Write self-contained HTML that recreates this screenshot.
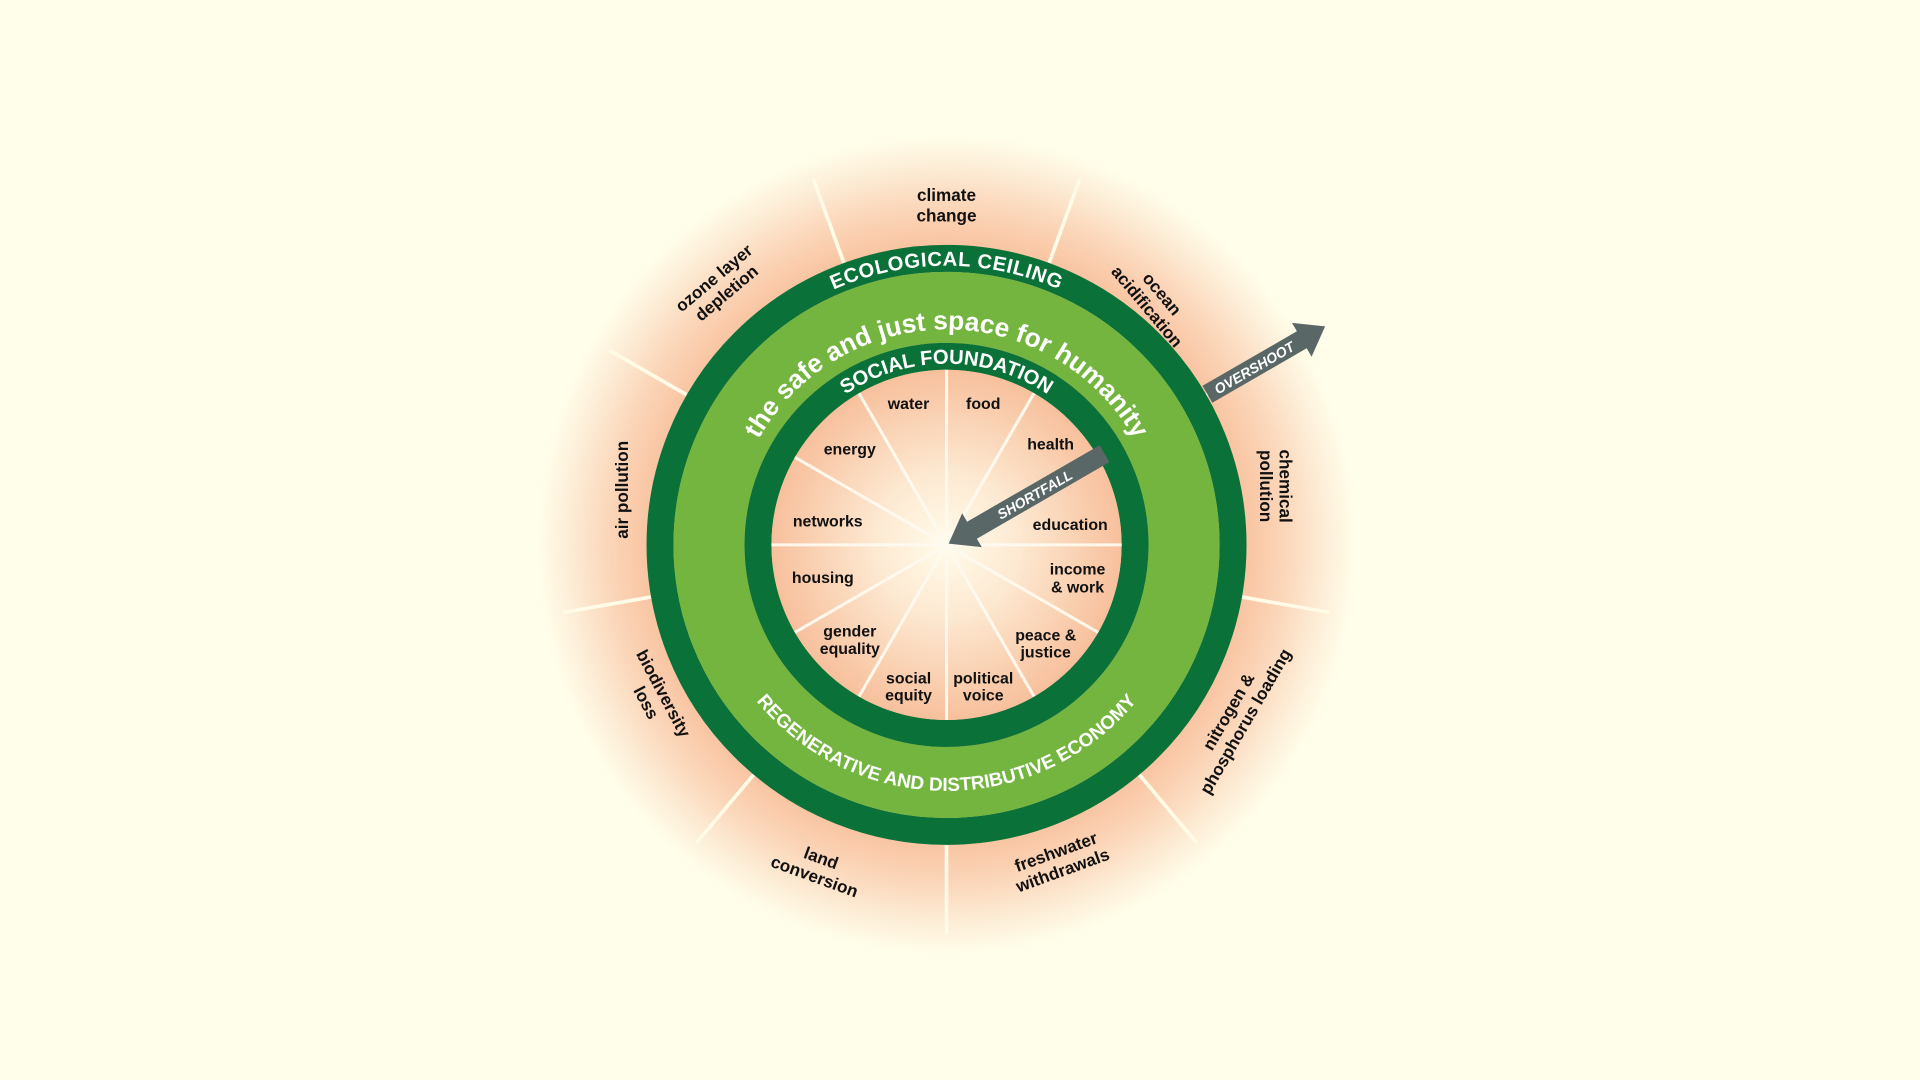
<!DOCTYPE html>
<html><head><meta charset="utf-8"><style>
html,body{margin:0;padding:0;background:#fffeea;}
svg{display:block;}
text{font-family:"Liberation Sans",sans-serif;font-weight:bold;}
</style></head><body>
<svg width="1920" height="1080" viewBox="0 0 1568 882" xmlns="http://www.w3.org/2000/svg">
<defs>
<radialGradient id="glow" cx="773" cy="445" r="335" gradientUnits="userSpaceOnUse">
<stop offset="0.7" stop-color="#f8bf9a"/>
<stop offset="0.82" stop-color="#fbd5b8"/>
<stop offset="0.93" stop-color="#fdefd9"/>
<stop offset="1" stop-color="#fffeea"/>
</radialGradient>
<radialGradient id="inner" cx="773" cy="445" r="145" gradientUnits="userSpaceOnUse">
<stop offset="0" stop-color="#fffcea"/>
<stop offset="0.4" stop-color="#fde9d2"/>
<stop offset="1" stop-color="#f7bf9b"/>
</radialGradient>
<path id="ecoArc" d="M 545 445 A 228 228 0 0 1 1001 445"/>
<path id="safeArc" d="M 597 445 A 176 176 0 0 1 949 445"/>
<path id="socArc" d="M 625 445 A 148 148 0 0 1 921 445"/>
<path id="regArc" d="M 572 445 A 201 201 0 0 0 974 445"/>
<line id="sp" x1="773" y1="200" x2="773" y2="127"/>
</defs>
<rect width="1568" height="882" fill="#fffeea"/>
<circle cx="773" cy="445" r="335" fill="url(#glow)"/>
<g stroke="#fffbe6" stroke-width="3">
<use href="#sp" transform="rotate(20 773 445)"/>
<use href="#sp" transform="rotate(-20 773 445)"/>
<use href="#sp" transform="rotate(60 773 445)"/>
<use href="#sp" transform="rotate(-60 773 445)"/>
<use href="#sp" transform="rotate(100 773 445)"/>
<use href="#sp" transform="rotate(-100 773 445)"/>
<use href="#sp" transform="rotate(140 773 445)"/>
<use href="#sp" transform="rotate(-140 773 445)"/>
<use href="#sp" transform="rotate(180 773 445)"/>
</g>
<circle cx="773" cy="445" r="234" fill="none" stroke="#0a7139" stroke-width="22"/>
<circle cx="773" cy="445" r="194" fill="none" stroke="#73b53f" stroke-width="58"/>
<circle cx="773" cy="445" r="154" fill="none" stroke="#0a7139" stroke-width="22"/>
<circle cx="773" cy="445" r="143" fill="url(#inner)"/>
<g stroke="#fffaf0" stroke-width="2.5" opacity="0.95">
<g id="isp"><line x1="773" y1="445" x2="773" y2="302"/></g>
<use href="#isp" transform="rotate(30 773 445)"/>
<use href="#isp" transform="rotate(60 773 445)"/>
<use href="#isp" transform="rotate(90 773 445)"/>
<use href="#isp" transform="rotate(120 773 445)"/>
<use href="#isp" transform="rotate(150 773 445)"/>
<use href="#isp" transform="rotate(180 773 445)"/>
<use href="#isp" transform="rotate(210 773 445)"/>
<use href="#isp" transform="rotate(240 773 445)"/>
<use href="#isp" transform="rotate(270 773 445)"/>
<use href="#isp" transform="rotate(300 773 445)"/>
<use href="#isp" transform="rotate(330 773 445)"/>
</g>
<g fill="#fff">
<text font-size="16.5" text-anchor="middle" letter-spacing="0.5"><textPath href="#ecoArc" startOffset="50%">ECOLOGICAL CEILING</textPath></text>
<text font-size="21.5" text-anchor="middle"><textPath href="#safeArc" startOffset="50%">the safe and just space for humanity</textPath></text>
<text font-size="16.5" text-anchor="middle"><textPath href="#socArc" startOffset="50%">SOCIAL FOUNDATION</textPath></text>
<text font-size="15.5" text-anchor="middle"><textPath href="#regArc" startOffset="50%">REGENERATIVE AND DISTRIBUTIVE ECONOMY</textPath></text>
</g>
<g transform="rotate(-30 773 445)" fill="#5a6767">
<polygon points="1019,437 1108,437 1108,429 1130,445 1108,461 1108,453 1019,453"/>
<text x="1063" y="449.5" font-size="11.5" fill="#fff" text-anchor="middle" font-style="italic">OVERSHOOT</text>
<polygon points="775,445 797,429 797,437 922,437 922,453 797,453 797,461"/>
<text x="856" y="449.5" font-size="11.5" fill="#fff" text-anchor="middle" font-style="italic">SHORTFALL</text>
</g>
<g fill="#111" font-size="14" text-anchor="middle">
<text x="773" y="164">climate</text><text x="773" y="181">change</text>
<g transform="translate(588,233) rotate(-40)"><text y="-3">ozone layer</text><text y="13">depletion</text></g>
<g transform="translate(508,400) rotate(-90)"><text y="5">air pollution</text></g>
<g transform="translate(535,570) rotate(62)"><text y="-3">biodiversity</text><text y="13">loss</text></g>
<g transform="translate(668,708) rotate(20)"><text y="-3">land</text><text y="13">conversion</text></g>
<g transform="translate(865,703) rotate(-20)"><text y="-3">freshwater</text><text y="13">withdrawals</text></g>
<g transform="translate(1010,585) rotate(-60)"><text y="-3">nitrogen &amp;</text><text y="13">phosphorus loading</text></g>
<g transform="translate(1042,397) rotate(90)"><text y="-3">chemical</text><text y="13">pollution</text></g>
<g transform="translate(943,245) rotate(50)"><text y="-3">ocean</text><text y="13">acidification</text></g>
</g>
<g fill="#111" font-size="13" text-anchor="middle">
<text x="742" y="334">water</text>
<text x="803" y="334">food</text>
<text x="858" y="367">health</text>
<text x="694" y="371">energy</text>
<text x="676" y="430">networks</text>
<text x="874" y="433">education</text>
<text x="672" y="476">housing</text>
<text x="880" y="469">income</text><text x="880" y="484">&amp; work</text>
<text x="694" y="520">gender</text><text x="694" y="534">equality</text>
<text x="854" y="523">peace &amp;</text><text x="854" y="537">justice</text>
<text x="742" y="558">social</text><text x="742" y="572">equity</text>
<text x="803" y="558">political</text><text x="803" y="572">voice</text>
</g>
</svg>
</body></html>
